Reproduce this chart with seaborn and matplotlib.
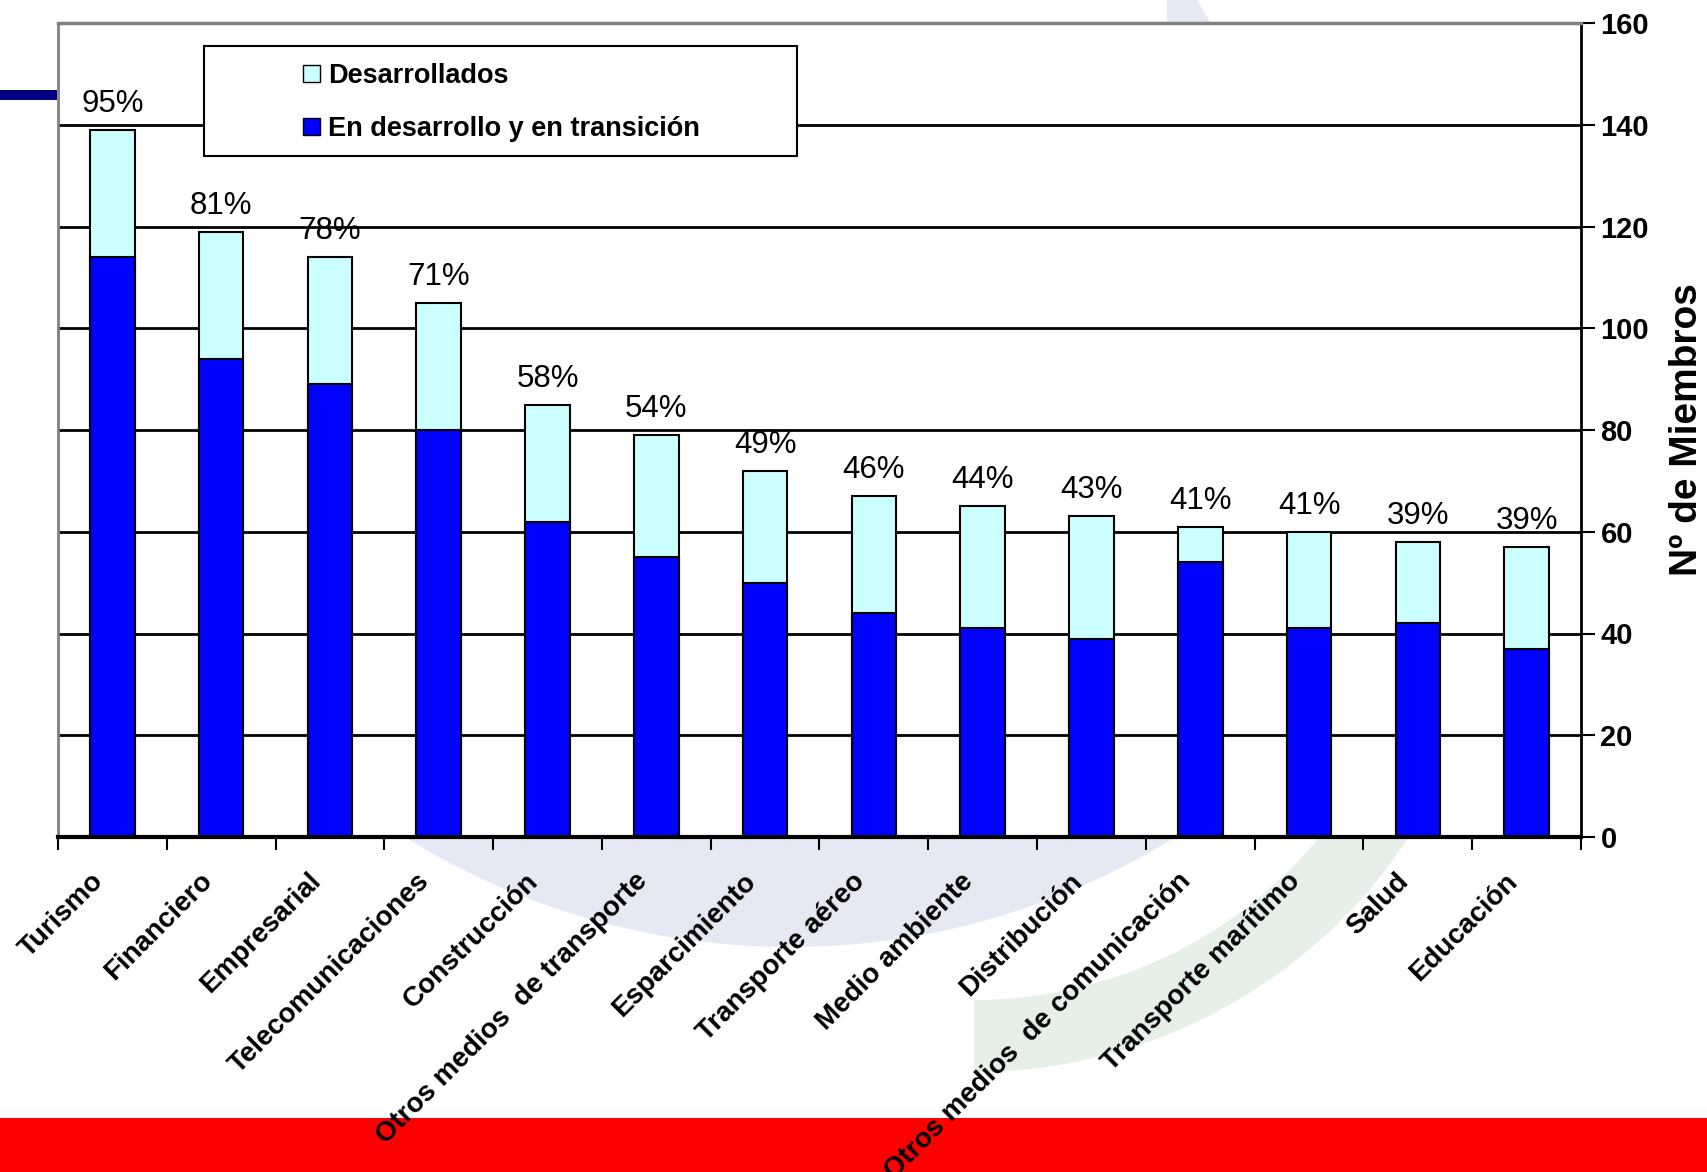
import matplotlib
matplotlib.use("Agg")
import matplotlib.pyplot as plt
import matplotlib.transforms as mtrans
from matplotlib.patches import Rectangle, Wedge, Polygon, Patch
import pandas as pd
import seaborn as sns

# =========================
# Datos
# =========================
sectores = ["Turismo", "Financiero", "Empresarial", "Telecomunicaciones",
            "Construcción", "Otros medios  de transporte", "Esparcimiento",
            "Transporte aéreo", "Medio ambiente", "Distribución",
            "Otros medios  de comunicación", "Transporte marítimo", "Salud",
            "Educación"]
totales = [139, 119, 114, 105, 85, 79, 72, 67, 65, 63, 61, 60, 58, 57]
en_desarrollo = [114, 94, 89, 80, 62, 55, 50, 44, 41, 39, 54, 41, 42, 37]
porcentajes = ["95%", "81%", "78%", "71%", "58%", "54%", "49%", "46%",
               "44%", "43%", "41%", "41%", "39%", "39%"]
y_ticks = [0, 20, 40, 60, 80, 100, 120, 140, 160]

df = pd.DataFrame({"Sector": sectores, "Total": totales,
                   "En_desarrollo": en_desarrollo})

sns.set_style("white")
plt.rcParams['font.family'] = ['Liberation Sans', 'DejaVu Sans']
plt.rcParams['text.color'] = 'black'
plt.rcParams['axes.labelcolor'] = 'black'
plt.rcParams['xtick.color'] = 'black'
plt.rcParams['ytick.color'] = 'black'

W, H = 1708, 1172
fig = plt.figure(figsize=(W / 100, H / 100), dpi=100)
# transformacion en pixeles (origen abajo a la izquierda)
px = mtrans.Affine2D().scale(1 / W, 1 / H) + fig.transFigure

# --- fondo decorativo de la diapositiva ---
fig.add_artist(Wedge((790, 955), 730, 200, 340, facecolor='#E6E9F3',
                     edgecolor='none', transform=px, zorder=-2))
fig.add_artist(Polygon([(1167, 1172), (1197, 1172), (1210, 1150), (1167, 1150)],
                       closed=True, facecolor='#E6E9F3', edgecolor='none',
                       transform=px, zorder=-2))
fig.add_artist(Wedge((974, 620), 520, 270, 360, width=72, facecolor='#E6F0E8',
                     edgecolor='none', transform=px, zorder=-2))
fig.add_artist(Rectangle((0, 0), W, 1172 - 1118, facecolor='#FF0000',
                         edgecolor='none', transform=px, zorder=-1))
fig.add_artist(Rectangle((0, 1172 - 100), 57, 10, facecolor='#000080',
                         edgecolor='none', transform=px, zorder=-1))

# --- ejes ---
ax = fig.add_axes([58 / W, 1 - 837 / H, 1523 / W, 814 / H])
ax.set_facecolor('white')

sns.barplot(data=df, x="Sector", y="Total", color="#CCFFFF", saturation=1,
            edgecolor="black", linewidth=1.5, width=0.41, errorbar=None, ax=ax)
sns.barplot(data=df, x="Sector", y="En_desarrollo", color="#0000FF", saturation=1,
            edgecolor="black", linewidth=1.5, width=0.41, errorbar=None, ax=ax)

for i, (t, p) in enumerate(zip(totales, porcentajes)):
    ax.annotate(p, (i, t), xytext=(0, 13), textcoords='offset points',
                ha='center', va='baseline', fontsize=22.5, color='black')

ax.set_axisbelow(True)
ax.yaxis.grid(True, color='black', linewidth=2)
ax.set_ylim(0, 160)
ax.set_xlim(-0.5, 13.5)

ax.spines['left'].set_color('#808080')
ax.spines['left'].set_linewidth(2)
ax.spines['top'].set_color('#808080')
ax.spines['top'].set_linewidth(2.5)
ax.spines['right'].set_color('black')
ax.spines['right'].set_linewidth(2)
ax.spines['bottom'].set_color('black')
ax.spines['bottom'].set_linewidth(3)

ax.yaxis.tick_right()
ax.set_yticks(y_ticks)
ax.set_yticklabels(y_ticks, fontweight='bold', fontsize=21)
ax.tick_params(axis='y', which='major', direction='out', length=10, width=1.5,
               right=True, left=False, pad=4, colors='black')

ax.set_xticks(range(len(sectores)))
ax.set_xticklabels(sectores, rotation=45, ha='right', va='center',
                   rotation_mode='anchor', fontweight='bold', fontsize=20)
ax.set_xticks([i - 0.5 for i in range(len(sectores) + 1)], minor=True)
ax.tick_params(axis='x', which='major', length=0, pad=29, colors='black')
ax.tick_params(axis='x', which='minor', length=9, width=1.5, direction='out',
               bottom=True, colors='black')
for lbl in ax.get_xticklabels():
    lbl.set_transform(lbl.get_transform() +
                      mtrans.ScaledTranslation(-13 / 100, 0, fig.dpi_scale_trans))

ax.set_xlabel('')
ax.set_ylabel('Nº de Miembros', fontsize=28, fontweight='bold', color='black')
ax.yaxis.set_label_position('right')
ax.yaxis.set_label_coords(1.058, 0.5)

# --- leyenda con recuadro ancho ---
fig.add_artist(Rectangle((204, 1172 - 156), 797 - 204, 156 - 46,
                         facecolor='white', edgecolor='black', linewidth=1.5,
                         transform=px, zorder=1))
handles = [Patch(facecolor='#CCFFFF', edgecolor='black', label='Desarrollados'),
           Patch(facecolor='#0000FF', edgecolor='black',
                 label='En desarrollo y en transición')]
leg = fig.legend(handles=handles, loc='upper left',
                 bbox_to_anchor=(303 / W, 1 - 63 / H), frameon=False,
                 prop={'weight': 'bold', 'size': 19.5}, handlelength=0.63,
                 handleheight=0.56, handletextpad=0.3, labelspacing=1.0,
                 borderpad=0, borderaxespad=0)
for txt in leg.get_texts():
    txt.set_color('black')

fig.savefig('out.png', dpi=100)
